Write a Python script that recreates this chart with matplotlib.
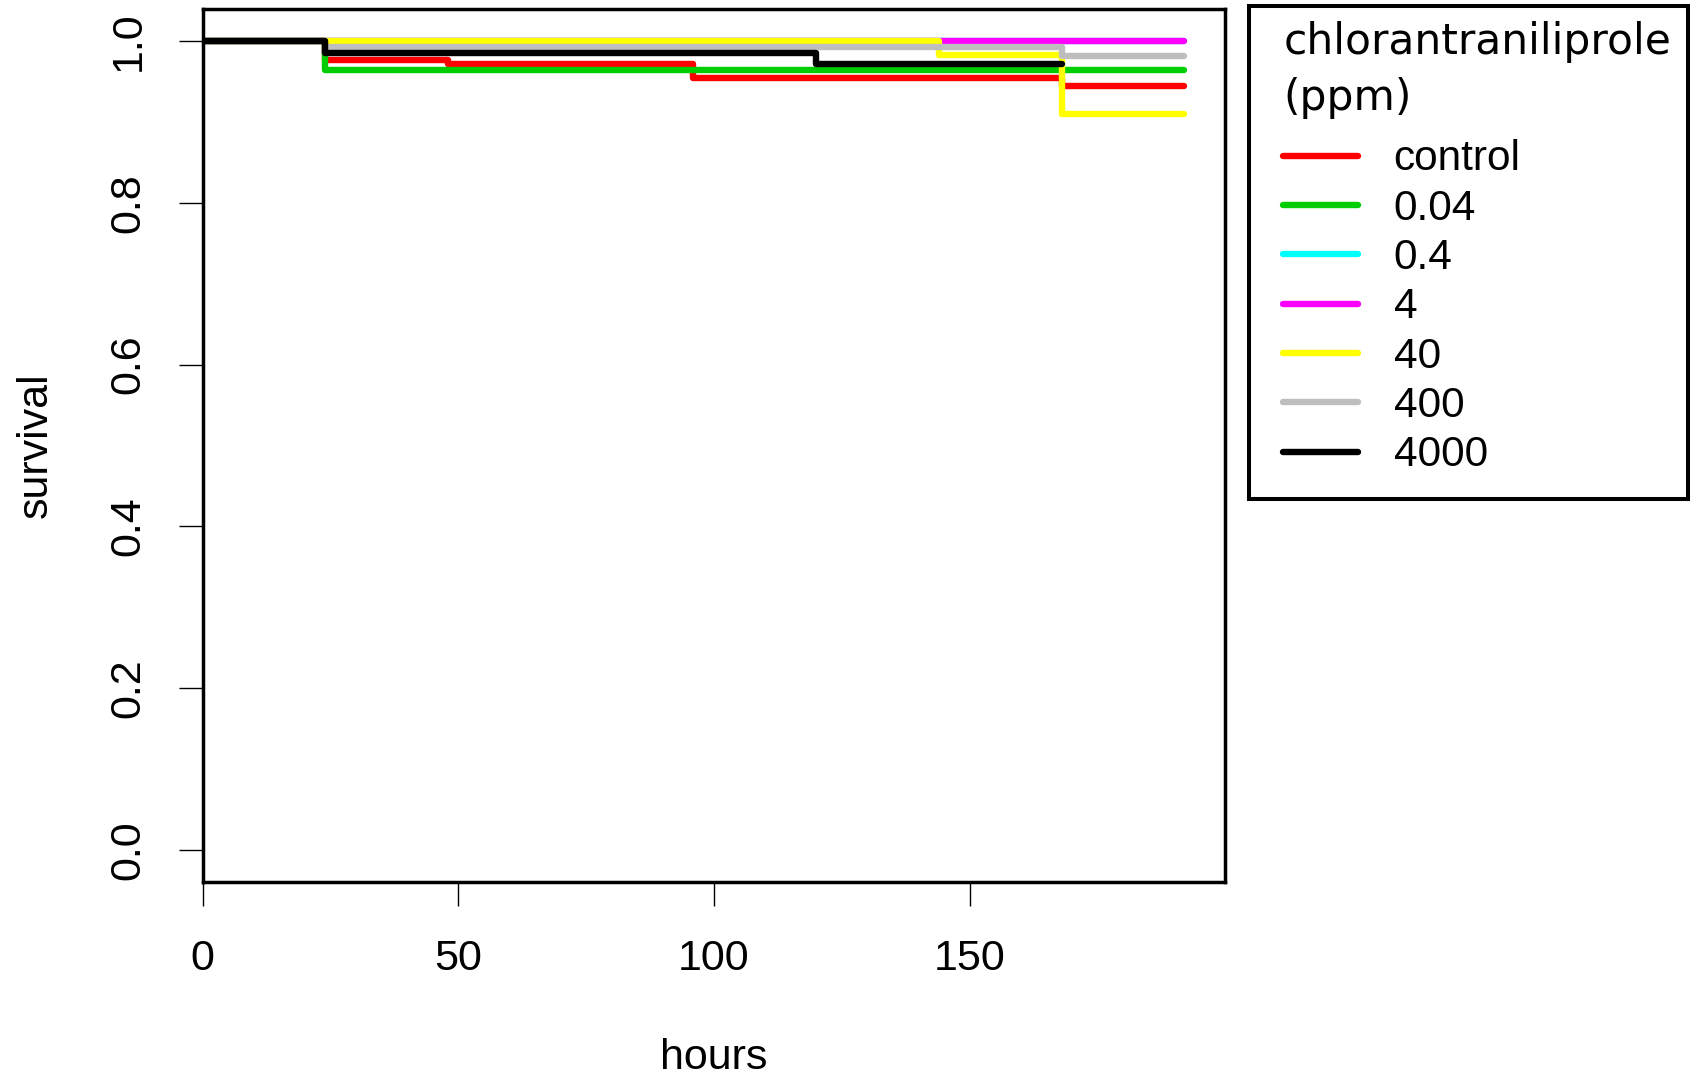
import matplotlib
matplotlib.use("Agg")
import matplotlib.pyplot as plt
from matplotlib.lines import Line2D
from matplotlib.patches import Rectangle

# survival curves (hours vs survival fraction)
hours = [0, 24, 48, 96, 120, 144, 168, 192]
control = [1.0, 0.977, 0.971, 0.954, 0.954, 0.954, 0.944, 0.944]
c0_04 = [1.0, 0.964, 0.964, 0.964, 0.964, 0.964, 0.964, 0.964]
c0_4 = [1.0, 1.0, 1.0, 1.0, 1.0, 1.0, 1.0, 1.0]
c4 = [1.0, 1.0, 1.0, 1.0, 1.0, 1.0, 1.0, 1.0]
c40 = [1.0, 1.0, 1.0, 1.0, 1.0, 0.982, 0.910, 0.910]
c400 = [1.0, 0.992, 0.992, 0.992, 0.992, 0.992, 0.981, 0.981]
c4000 = [1.0, 0.985, 0.985, 0.985, 0.971, 0.971, 0.971]  # censored at 168 h

series = [control, c0_04, c0_4, c4, c40, c400, c4000]
labels = ["control", "0.04", "0.4", "4", "40", "400", "4000"]
colors = ["#FF0000", "#00CD00", "#00FFFF", "#FF00FF", "#FFFF00", "#BEBEBE", "#000000"]

plt.rcParams["font.family"] = ["Liberation Sans", "DejaVu Sans"]

fig = plt.figure(figsize=(16.91, 10.71), dpi=100)
ax = fig.add_axes([0.1199, 0.1762, 0.6046, 0.8158])

for y, lab, col in zip(series, labels, colors):
    ax.step(hours[:len(y)], y, where="post", color=col, lw=4.6,
            solid_capstyle="round", solid_joinstyle="round", label=lab)

ax.set_xlim(0, 200)
ax.set_ylim(-0.04, 1.04)
ax.set_xticks([0, 50, 100, 150])
ax.set_yticks([0.0, 0.2, 0.4, 0.6, 0.8, 1.0])
ax.set_yticklabels(["0.0", "0.2", "0.4", "0.6", "0.8", "1.0"], rotation=90, va="center")
ax.tick_params(axis="both", length=17, width=1.0, labelsize=31)
ax.tick_params(axis="y", pad=22)
ax.tick_params(axis="x", pad=24)
for s in ax.spines.values():
    s.set_linewidth(2.5)

ax.set_xlabel("hours", fontsize=31, labelpad=42)
ax.set_ylabel("survival", fontsize=31, labelpad=38)

# legend box drawn separately so its padding can follow the original
fig.patches.append(Rectangle((0.7385, 0.5337), 0.2595, 0.4603, transform=fig.transFigure,
                             fill=False, edgecolor="black", lw=2.9))
handles = [Line2D([], [], color=c, lw=4.6, solid_capstyle="round") for c in colors]
leg = fig.legend(handles, labels, loc="upper left", bbox_to_anchor=(0.759, 0.980),
                 title="chlorantraniliprole\n(ppm)", alignment="left",
                 prop={"family": "Liberation Sans", "size": 30.5},
                 title_fontproperties={"family": "DejaVu Sans", "size": 30.5},
                 frameon=False, handlelength=1.75, handletextpad=0.85,
                 labelspacing=0.22, borderpad=0, borderaxespad=0)
leg.get_title().set_linespacing(1.4)
leg._legend_box.sep = 15

fig.savefig("out.png", dpi=100, facecolor="white")
